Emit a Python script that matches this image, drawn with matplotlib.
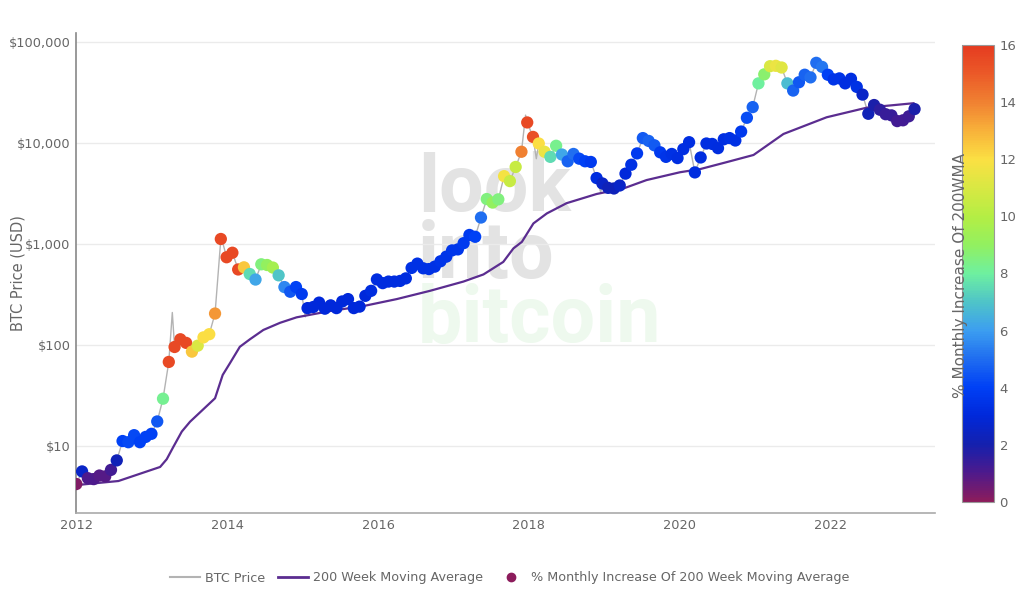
import numpy as np
import pandas as pd
import matplotlib
matplotlib.use("Agg")
import matplotlib.pyplot as plt
from matplotlib.colors import LinearSegmentedColormap, Normalize
from matplotlib.lines import Line2D
import matplotlib.ticker as mticker

# ---------------- data ----------------
dot_start = "2012-01-01"   # dots are 28 days apart
dot_prices = [
    4.2, 5.6, 4.8, 4.7, 5.1, 5.0, 5.8, 7.2, 11.2, 10.9,
    12.8, 10.9, 12.3, 13.2, 17.5, 29.4, 68, 95.6, 114, 105,
    86, 98.5, 119, 128, 205, 1122, 740, 820, 560, 588,
    505, 445, 630, 620, 585, 490, 375, 337, 375, 320,
    232, 238, 263, 229, 247, 232, 270, 285, 232, 240,
    307, 344, 446, 410, 425, 425, 431, 457, 580, 640,
    575, 565, 597, 675, 750, 865, 885, 1020, 1230, 1180,
    1830, 2790, 2575, 2770, 4700, 4200, 5800, 8200, 16000, 11500,
    9900, 8200, 7300, 9400, 7700, 6600, 7800, 7000, 6600, 6500,
    4500, 3980, 3600, 3550, 3800, 4980, 6100, 7900, 11200, 10500,
    9500, 8100, 7300, 7800, 7100, 8700, 10200, 5120, 7200, 9900,
    9800, 8900, 10900, 11200, 10600, 13000, 17800, 22700, 39000, 47900,
    57700, 58200, 56000, 39000, 33100, 40000, 47500, 44700, 62300, 56800,
    47500, 42700, 43700, 39000, 43300, 36000, 30200, 19500, 23800, 21400,
    19300, 18800, 16500, 16800, 18400, 21700,
]
dot_increase = [
    0.2, 2.6, 1.0, 1.0, 0.9, 0.9, 1.2, 2.2, 4.0, 4.2,
    4.2, 4.0, 4.0, 4.0, 4.5, 8.2, 15.5, 15.5, 15.5, 15.5,
    12.5, 11.0, 12.0, 12.0, 13.5, 15.5, 15.5, 15.5, 15.5, 12.5,
    7.5, 6.2, 8.5, 9.0, 9.5, 7.0, 5.5, 4.5, 4.0, 3.8,
    3.0, 3.0, 3.0, 3.0, 3.0, 3.0, 3.0, 3.0, 3.0, 3.0,
    3.0, 3.2, 3.2, 3.2, 3.2, 3.2, 3.2, 3.2, 3.4, 3.4,
    3.4, 3.4, 3.4, 3.5, 3.5, 3.6, 3.6, 3.8, 3.8, 4.0,
    5.0, 8.5, 9.0, 8.5, 11.8, 10.5, 10.5, 14.0, 15.5, 15.3,
    12.0, 11.5, 7.5, 8.3, 6.2, 4.8, 5.0, 4.2, 4.0, 3.8,
    3.2, 2.6, 2.3, 2.3, 2.6, 3.0, 3.4, 3.8, 4.6, 4.8,
    4.6, 3.8, 3.5, 3.4, 3.3, 3.3, 3.3, 3.2, 3.2, 3.3,
    3.3, 3.2, 3.3, 3.4, 3.4, 3.7, 4.3, 4.8, 8.0, 8.8,
    11.0, 11.5, 11.2, 6.8, 4.8, 4.5, 4.8, 5.0, 5.0, 5.2,
    4.0, 3.5, 3.5, 3.3, 3.3, 3.4, 2.6, 2.2, 1.9, 1.6,
    1.4, 1.4, 1.2, 1.2, 1.3, 1.9,
]

# extra intra-period extremes of the grey price line
price_extra_dates = ["2013-04-10", "2013-12-04", "2015-01-14", "2017-12-16",
                     "2018-02-06", "2018-12-15", "2021-04-14", "2021-11-09",
                     "2022-11-21"]
price_extra_values = [210, 1150, 190, 18900, 7000, 3250, 63000, 67000, 15800]

wma_dates = [
    "2012-01-01", "2012-07-23", "2013-02-10", "2013-03-14", "2013-04-15",
    "2013-05-26", "2013-07-05", "2013-11-03", "2013-12-10", "2014-01-14",
    "2014-03-03", "2014-04-21", "2014-06-25", "2014-09-14", "2014-12-03",
    "2015-02-22", "2015-05-14", "2015-10-22", "2016-04-01", "2016-09-09",
    "2017-02-18", "2017-05-26", "2017-08-30", "2017-10-18", "2017-11-28",
    "2018-01-23", "2018-03-29", "2018-07-03", "2018-11-25", "2019-04-04",
    "2019-07-25", "2020-01-03", "2020-04-09", "2020-08-17", "2020-12-24",
    "2021-05-18", "2021-12-13", "2022-06-25", "2023-02-07",
]
wma_values = [
    4.1, 4.5, 6.2, 7.4, 9.8, 13.9, 17.4, 29.7, 50.5, 66,
    96, 114, 141, 166, 188, 202, 217, 243, 285, 344,
    425, 500, 665, 905, 1050, 1600, 2010, 2540, 3130, 3550,
    4300, 5140, 5520, 6480, 7620, 12300, 18000, 22400, 24800,
]

y_ticks = [10, 100, 1000, 10000, 100000]
y_tick_labels = ["$10", "$100", "$1,000", "$10,000", "$100,000"]
x_tick_years = [2012, 2014, 2016, 2018, 2020, 2022]
cbar_ticks = [0, 2, 4, 6, 8, 10, 12, 14, 16]

# ---------------- styling ----------------
cmap = LinearSegmentedColormap.from_list("mi", [
    (0 / 16, "#8c1c5c"), (1 / 16, "#4d1a8c"), (2 / 16, "#1420ae"),
    (3 / 16, "#0028da"), (4 / 16, "#0040f5"), (5 / 16, "#1f6df0"),
    (6 / 16, "#3c9ef0"), (7 / 16, "#4fc4c8"), (8 / 16, "#6ef0a0"),
    (9 / 16, "#92f060"), (10 / 16, "#b4ee44"), (11 / 16, "#d8e843"),
    (12 / 16, "#fbe043"), (13 / 16, "#f8b23a"), (14 / 16, "#f08232"),
    (15 / 16, "#eb5a28"), (16 / 16, "#e53b20"),
])
norm = Normalize(0, 16)
TXT = "#666666"
plt.rcParams["font.family"] = ["DejaVu Sans"]

fig = plt.figure(figsize=(10.24, 5.94), dpi=100)
ax = fig.add_axes([76.3 / 1024, 1 - 513 / 594, (935 - 76.3) / 1024, 480 / 594])

dot_dates = pd.date_range(dot_start, periods=len(dot_prices), freq="28D")
price_df = pd.concat([
    pd.DataFrame({"d": dot_dates, "v": dot_prices}),
    pd.DataFrame({"d": pd.to_datetime(price_extra_dates), "v": price_extra_values}),
]).sort_values("d")

# watermark
for txt, yy, col in [("look", 0.63, "#e3e3e3"), ("into", 0.49, "#e3e3e3"),
                     ("bitcoin", 0.356, "#eef9ee")]:
    ax.text(0.398, yy, txt, transform=ax.transAxes, fontsize=57, fontweight="bold",
            family="Roboto", color=col, zorder=0)

ax.plot(price_df["d"], price_df["v"], color="#b3b3b3", lw=1.0, zorder=2)
ax.plot(pd.to_datetime(wma_dates), wma_values, color="#5b2d90", lw=1.6, zorder=3)
ax.scatter(dot_dates, dot_prices, c=dot_increase, cmap=cmap, norm=norm, s=78,
           edgecolors="none", zorder=4)

ax.set_yscale("log")
ax.set_ylim(2.17, 123000)
ax.set_xlim(pd.Timestamp("2012-01-01"), pd.Timestamp("2023-05-22"))
ax.yaxis.set_major_locator(mticker.FixedLocator(y_ticks))
ax.yaxis.set_major_formatter(mticker.FixedFormatter(y_tick_labels))
ax.yaxis.set_minor_locator(mticker.NullLocator())
ax.set_xticks([pd.Timestamp(f"{y}-01-01") for y in x_tick_years])
ax.set_xticklabels([str(y) for y in x_tick_years])
ax.tick_params(axis="y", length=0, labelsize=9.3, colors=TXT, pad=4)
ax.tick_params(axis="x", length=0, labelsize=9.3, colors=TXT, pad=4)
ax.grid(axis="y", color="#ebebeb", lw=1)
ax.set_axisbelow(True)
for s in ["top", "right"]:
    ax.spines[s].set_visible(False)
ax.spines["left"].set_color("#888888")
ax.spines["bottom"].set_color("#aaaaaa")
ax.spines["left"].set_linewidth(1.2)
ax.spines["bottom"].set_linewidth(1.2)
fig.text(18 / 1024, 1 - 273 / 594, "BTC Price (USD)", rotation=90, ha="center",
         va="center", color=TXT, fontsize=10.5)

# colorbar
cax = fig.add_axes([962 / 1024, 1 - 502 / 594, 32 / 1024, 457 / 594])
sm = matplotlib.cm.ScalarMappable(norm=norm, cmap=cmap)
cb = fig.colorbar(sm, cax=cax, ticks=cbar_ticks)
cb.outline.set_edgecolor("#999999")
cb.outline.set_linewidth(0.8)
cax.tick_params(length=0, labelsize=9.5, colors=TXT, pad=4)
fig.text(961 / 1024, 1 - 276 / 594, "% Monthly Increase Of 200WMA", rotation=90,
         ha="center", va="center", fontsize=11, color=TXT)

# legend
handles = [
    Line2D([], [], color="#b3b3b3", lw=1.5),
    Line2D([], [], color="#5b2d90", lw=2),
    Line2D([], [], color="#8c1c5c", lw=0, marker="o", markersize=6),
]
labels = ["BTC Price", "200 Week Moving Average",
          "% Monthly Increase Of 200 Week Moving Average"]
leg = fig.legend(handles, labels, loc="center", bbox_to_anchor=(0.4976, 1 - 578 / 594),
                 ncol=3, frameon=False, fontsize=9.2, handlelength=2.35,
                 handletextpad=0.4, columnspacing=1.0)
for t in leg.get_texts():
    t.set_color(TXT)

fig.savefig("out.png", dpi=100)
